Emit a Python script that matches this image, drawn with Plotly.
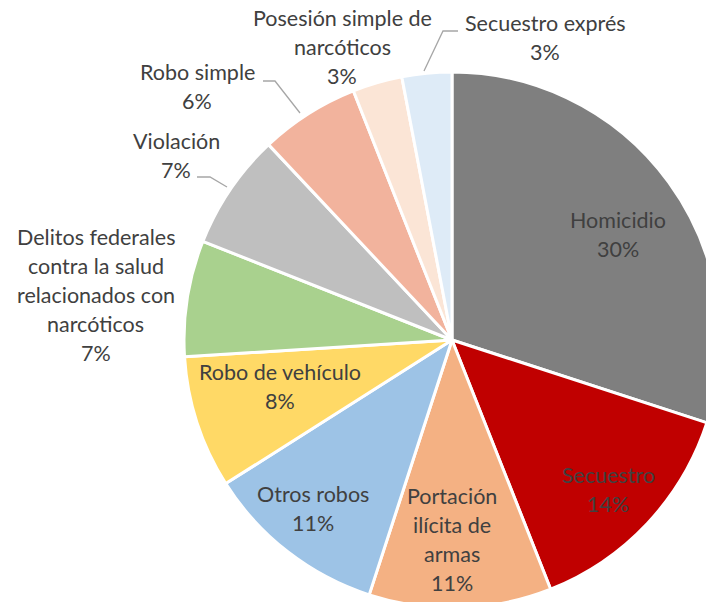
import plotly.graph_objects as go

categories = ["Homicidio", "Secuestro", "Portación ilícita de armas", "Otros robos",
              "Robo de vehículo", "Delitos federales contra la salud relacionados con narcóticos",
              "Violación", "Robo simple", "Posesión simple de narcóticos", "Secuestro exprés"]
values = [30, 14, 11, 11, 8, 7, 7, 6, 3, 3]
colors = ["#7F7F7F", "#C00000", "#F4B183", "#9DC3E6", "#FFD966", "#A9D18E",
          "#BFBFBF", "#F2B39D", "#FBE5D6", "#DEEBF7"]

# label text lines (the last line is the percentage, taken from values)
label_lines = [
    ["Homicidio"],
    ["Secuestro"],
    ["Portación", "ilícita de", "armas"],
    ["Otros robos"],
    ["Robo de vehículo"],
    ["Delitos federales", "contra la salud", "relacionados con", "narcóticos"],
    ["Violación"],
    ["Robo simple"],
    ["Posesión simple de", "narcóticos"],
    ["Secuestro exprés"],
]

# layout: label centre x and first line y in pixels; line spacing
W, H = 730, 620
label_pos = [(618, 220), (608, 475), (452, 496), (313, 494), (280, 372),
             (96, 237), (176, 141), (197, 72), (342, 18), (545, 23)]
LINE = 29
leaders = [
    [(458, 31), (443, 31), (424, 71)],
    [(263, 81), (275, 81), (300, 113)],
    [(197, 177), (210, 177), (227, 187)],
]

cx, cy, r = 452, 340, 268

fig = go.Figure(go.Pie(
    labels=categories, values=values, sort=False, direction="clockwise", rotation=0,
    marker=dict(colors=colors, line=dict(color="white", width=3)),
    textinfo="none", hoverinfo="label+percent", showlegend=False,
    domain=dict(x=[(cx - r) / W, (cx + r) / W], y=[(H - cy - r) / H, (H - cy + r) / H]),
))

total = sum(values)
annotations = []
for lines, v, (x, y) in zip(label_lines, values, label_pos):
    all_lines = lines + [f"{round(100 * v / total)}%"]
    for i, t in enumerate(all_lines):
        annotations.append(dict(
            x=x / W, y=1 - (y + i * LINE) / H, xref="paper", yref="paper",
            text=t, showarrow=False, xanchor="center", yanchor="middle",
            font=dict(family="Lato, Open Sans, sans-serif", size=21.5, color="#404040"),
        ))

shapes = []
for pts in leaders:
    path = "M " + " L ".join(f"{px / W},{1 - py / H}" for px, py in pts)
    shapes.append(dict(type="path", path=path, xref="paper", yref="paper",
                       line=dict(color="#A6A6A6", width=1.3)))

fig.update_layout(
    width=W, height=H, margin=dict(l=0, r=0, t=0, b=0),
    paper_bgcolor="white", plot_bgcolor="white",
    annotations=annotations, shapes=shapes,
)

fig.write_html("out.html", config={"displayModeBar": False}, post_script=(
    "document.body.style.margin='0';"
    "document.body.style.overflow='hidden';"
    "document.documentElement.style.overflow='hidden';"
))
